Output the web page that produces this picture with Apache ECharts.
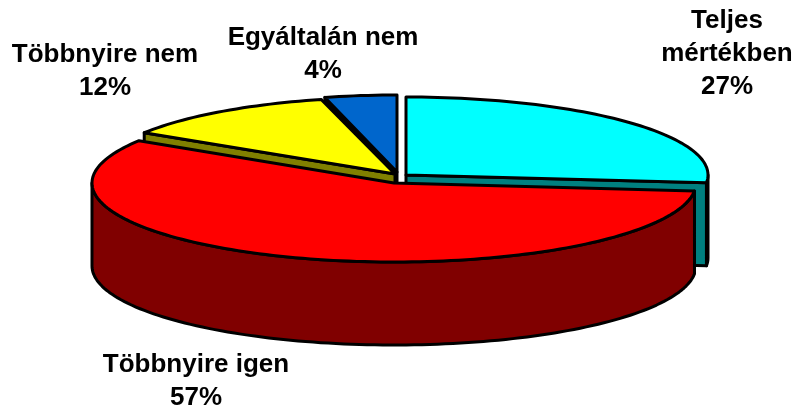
<!DOCTYPE html>
<html><head><meta charset="utf-8">
<style>html,body{margin:0;padding:0;background:#fff}#c{width:795px;height:407px}</style>
<script src="https://cdn.jsdelivr.net/npm/echarts@6/dist/echarts.min.js"></script>
</head><body><div id="c"></div>
<script>
const categories = ['Teljes\nmértékben', 'Többnyire igen', 'Többnyire nem', 'Egyáltalán nem'];
const values = [26.6, 57.4, 12, 4];

// Layout and style (not data): centre x, centre y, radius x, radius y of each slice's top face
const topColors = ['#00FFFF', '#FF0000', '#FFFF00', '#0066CC'];
const sideColors = ['#008080', '#800000', '#808000', '#000000'];
const centers = [[406, 175, 302, 78], [394, 183, 302, 79], [395, 174, 297, 77], [397, 172, 290, 77]];
const labelPos = [[727, 54], [196, 381], [105, 71], [323, 54]];
const drawOrder = [0, 3, 2, 1];
const DEPTH = 83;

const total = values.reduce((a, b) => a + b, 0);
const starts = [];
values.reduce((acc, v, i) => { starts[i] = acc; return acc + v; }, 0);

function pt(c, deg, dy) {
  const t = deg * Math.PI / 180;
  return [c[0] + c[2] * Math.cos(t), c[1] - c[3] * Math.sin(t) + (dy || 0)];
}
function arc(c, from, to, dy) {
  const n = Math.max(2, Math.ceil(Math.abs(from - to) / 1.5));
  const out = [];
  for (let k = 0; k <= n; k++) out.push(pt(c, from + (to - from) * k / n, dy));
  return out;
}
function poly(points, fill) {
  return { type: 'polygon', shape: { points }, style: { fill, stroke: '#000', lineWidth: 3, lineJoin: 'round' } };
}
function renderItem(params, api) {
  const i = api.value(0);
  const c = centers[i];
  const s = 90 - 360 * starts[i] / total;
  const e = s - 360 * values[i] / total;
  const apex = [c[0], c[1]];
  const children = [];
  const wall = a => {
    const p = pt(c, a);
    children.push(poly([apex, p, [p[0], p[1] + DEPTH], [apex[0], apex[1] + DEPTH]], sideColors[i]));
  };
  const cosS = Math.cos(s * Math.PI / 180), cosE = Math.cos(e * Math.PI / 180);
  if (cosS < -1e-9) wall(s);   // clockwise-start edge faces the viewer on the left half
  if (cosE > 1e-9) wall(e);    // clockwise-end edge faces the viewer on the right half
  const from = Math.min(s, 0), to = Math.max(e, -180);
  if (from > to) {
    children.push(poly(arc(c, from, to, 0).concat(arc(c, to, from, DEPTH)), sideColors[i]));
  }
  children.push(poly([apex].concat(arc(c, s, e, 0)), topColors[i]));
  children.push({
    type: 'text',
    style: {
      x: labelPos[i][0], y: labelPos[i][1],
      text: categories[i] + '\n' + Math.round(values[i]) + '%',
      align: 'center', verticalAlign: 'middle',
      font: 'bold 26px "Liberation Sans", Arial, sans-serif',
      lineHeight: 33, fill: '#000'
    }
  });
  return { type: 'group', children };
}
const chart = echarts.init(document.getElementById('c'), null, { renderer: 'canvas' });
chart.setOption({
  animation: false,
  backgroundColor: '#fff',
  series: [{
    type: 'custom',
    coordinateSystem: 'none',
    renderItem,
    silent: true,
    data: drawOrder.map(i => ({ name: categories[i], value: [i, values[i]] }))
  }]
});
</script></body></html>
